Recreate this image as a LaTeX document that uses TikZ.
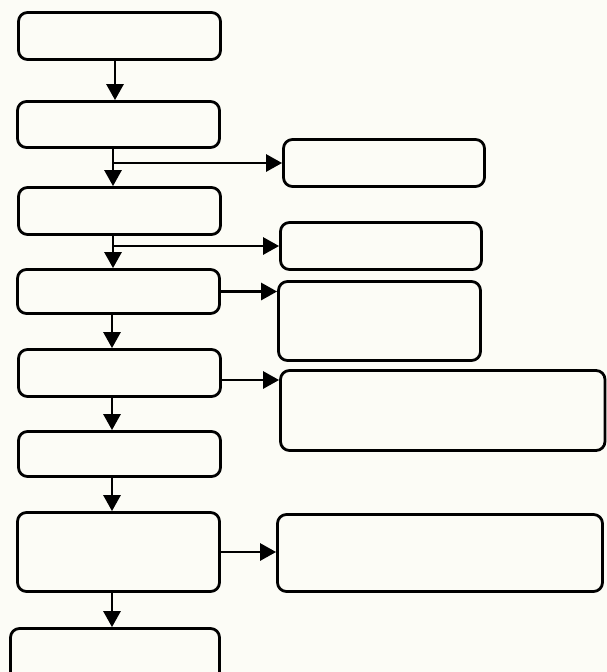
\documentclass[tikz,border=0pt]{standalone}
\usetikzlibrary{arrows.meta}
\definecolor{paper}{HTML}{FCFCF6}
\tikzset{
  box/.style={draw=black, line width=2.8pt, rounded corners=9pt, fill=paper,
    inner sep=0pt, anchor=center},
  arr/.style={draw=black, line width=2.8pt, -{Triangle[length=16pt,width=17pt]}},
}
\begin{document}
\begin{tikzpicture}[x=1pt, y=-1pt]
  \useasboundingbox (0,0) rectangle (607,672);
  \fill[paper] (0,0) rectangle (607,672);
  \clip (0,0) rectangle (607,672);

  % main column
  \node[box, minimum width=202pt, minimum height=47pt] (b1) at (119.5,36) {};
  \node[box, minimum width=202pt, minimum height=46pt] (b2) at (118.5,124.5) {};
  \node[box, minimum width=202pt, minimum height=47pt] (b3) at (119.5,211) {};
  \node[box, minimum width=202pt, minimum height=44pt] (b4) at (118.5,291.5) {};
  \node[box, minimum width=202pt, minimum height=47pt] (b5) at (119.5,373) {};
  \node[box, minimum width=202pt, minimum height=45pt] (b6) at (119.5,454) {};
  \node[box, minimum width=202pt, minimum height=79pt] (b7) at (118.5,552) {};
  \node[box, minimum width=209pt, minimum height=81pt] (b8) at (115,669) {};

  % side column
  \node[box, minimum width=201pt, minimum height=47pt] (r1) at (384,163) {};
  \node[box, minimum width=201pt, minimum height=47pt] (r2) at (381,246) {};
  \node[box, minimum width=202pt, minimum height=79pt] (r3) at (379.5,321) {};
  \node[box, minimum width=324.5pt, minimum height=80pt] (r4) at (442.75,410.5) {};
  \node[box, minimum width=325pt, minimum height=77pt] (r5) at (440,553) {};

  % flow lines
  \coordinate (c1) at (115,0);
  \coordinate (c2) at (113,0);
  \coordinate (c3) at (112,0);

  \draw[arr] (b1.south -| c1) -- (b2.north -| c1);
  \draw[arr] (b2.south -| c2) -- (b3.north -| c2);
  \draw[arr] (r1.west -| c2) -- (r1.west);
  \draw[arr] (b3.south -| c2) -- (b4.north -| c2);
  \draw[arr] (r2.west -| c2) -- (r2.west);
  \draw[arr] (b4.east) -- (b4.east -| r3.west);
  \draw[arr] (b4.south -| c3) -- (b5.north -| c3);
  \draw[arr] ([yshift=-7pt]b5.east) -- ([yshift=-7pt]b5.east -| r4.west);
  \draw[arr] (b5.south -| c3) -- (b6.north -| c3);
  \draw[arr] (b6.south -| c3) -- (b7.north -| c3);
  \draw[arr] (b7.east) -- (b7.east -| r5.west);
  \draw[arr] (b7.south -| c3) -- (b8.north -| c3);
\end{tikzpicture}
\end{document}
